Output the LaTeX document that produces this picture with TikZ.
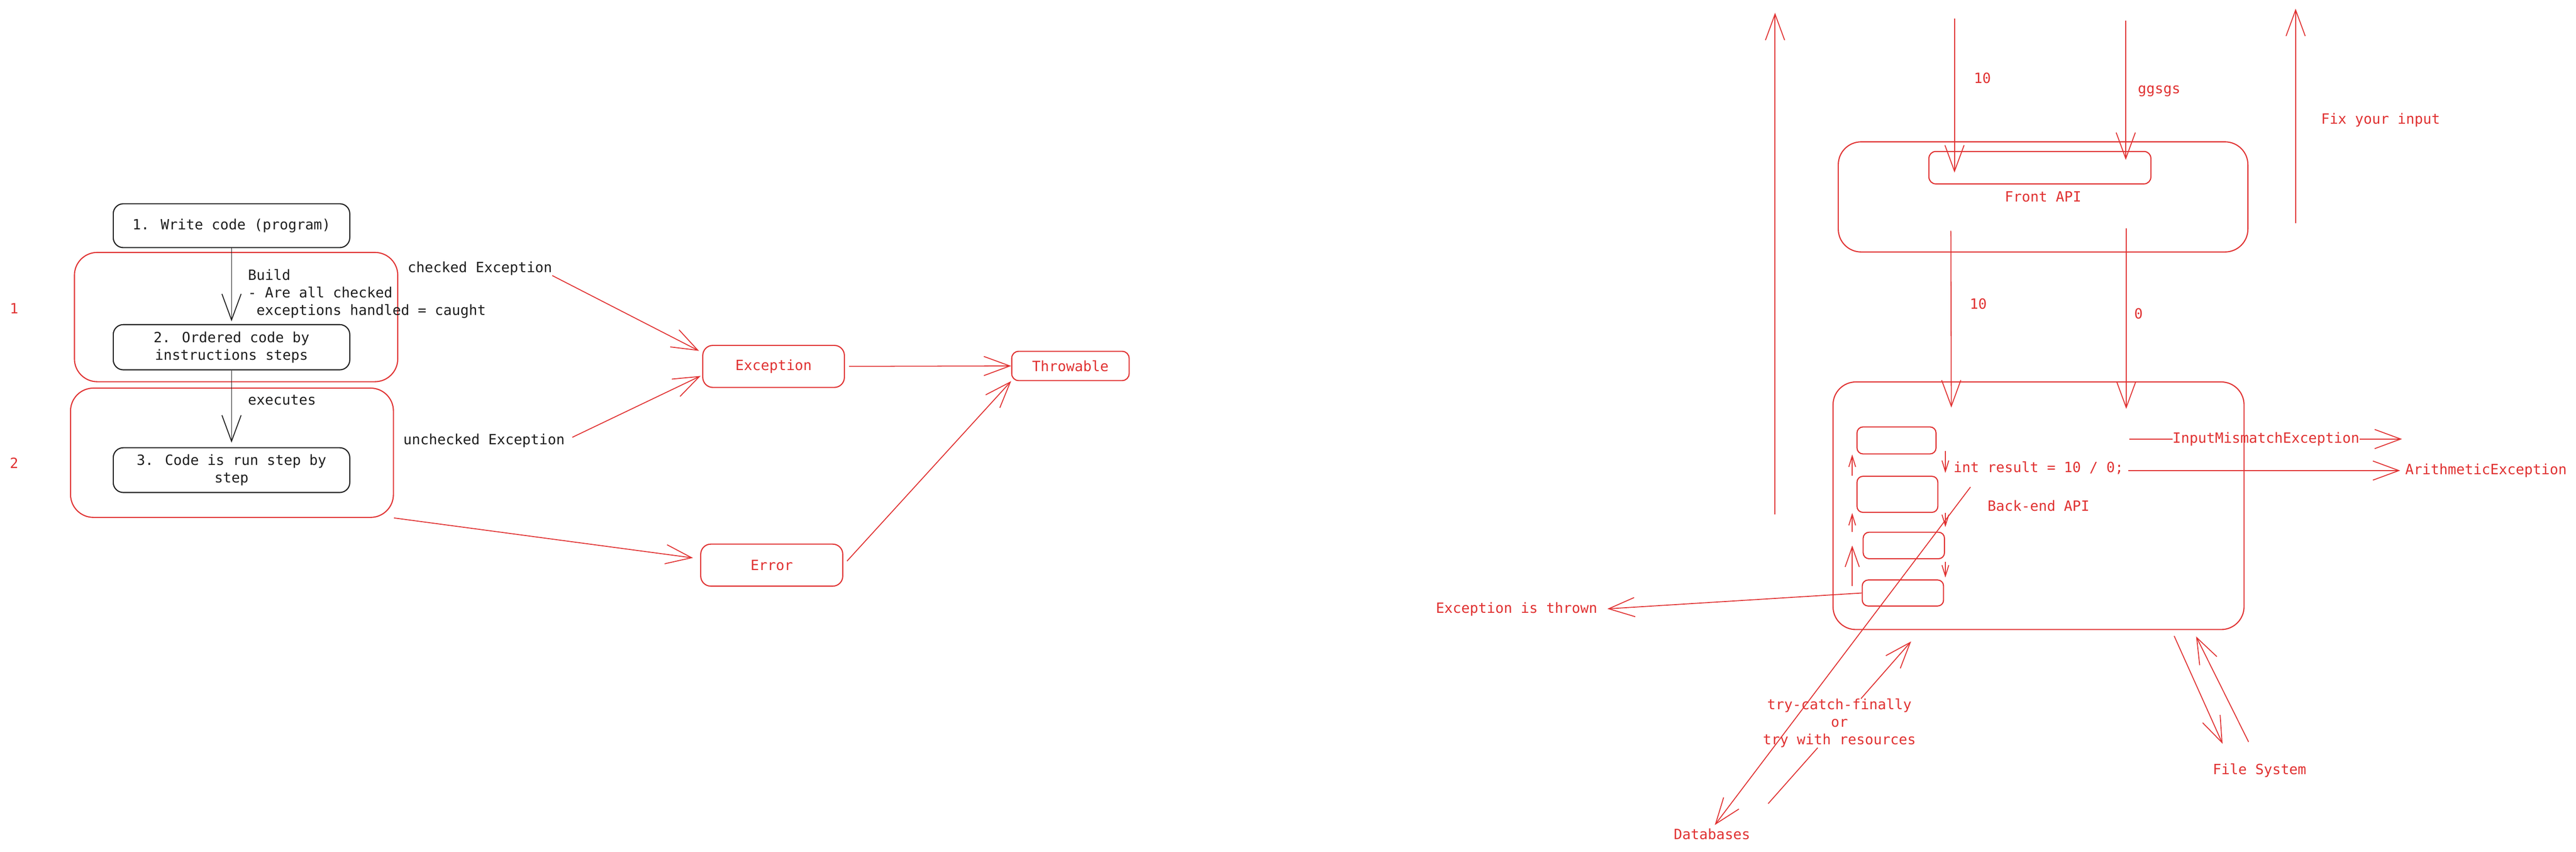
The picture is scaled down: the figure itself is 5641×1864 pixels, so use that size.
\documentclass[tikz,border=0pt]{standalone}
\usepackage{fontspec}
\setmainfont{DejaVu Sans Mono}
\usetikzlibrary{arrows.meta,positioning,calc}
\definecolor{exred}{HTML}{E03131}
\definecolor{blk}{HTML}{1E1E1E}
\newcommand{\mylw}{2.4pt}
\newcommand{\arlw}{2pt}
\newcommand{\fsz}{\fontsize{30.9pt}{38.5pt}\selectfont}
\tikzset{
    blkboxsty/.style={draw=blk,line width=\mylw,rectangle,rounded corners=22pt,align=center,text=blk,inner sep=0pt,anchor=center},
    bigboxsty/.style={draw=exred,line width=\mylw,rectangle,rounded corners=50pt,align=center,text=exred,inner sep=0pt,anchor=center},
    redboxsty/.style={draw=exred,line width=\mylw,rectangle,rounded corners=22pt,text=exred,inner sep=0pt,anchor=center},
    smboxsty/.style={draw=exred,line width=\mylw,rectangle,rounded corners=13pt,inner sep=0pt,anchor=center},
    redtxtsty/.style={text=exred,inner sep=0pt,align=center},
    blktxtsty/.style={text=blk,inner sep=0pt,align=left},
    blkarrsty/.style={draw=blk,line width=\arlw,->},
    redarrsty/.style={draw=exred,line width=\arlw,->},
    redlnsty/.style={draw=exred,line width=\arlw},
    smarrsty/.style={draw=exred,line width=\arlw,-{Straight Barb[length=24pt,width=15pt]}},
    mdarrsty/.style={draw=exred,line width=\arlw,-{Straight Barb[length=44pt,width=31pt]}},
}

\begin{document}
\begin{tikzpicture}[>={Straight Barb[length=57pt,width=42pt]},x=1pt,y=-1pt,font=\fsz]
\useasboundingbox (0,0) rectangle (5641,1864);

\node[bigboxsty,minimum width=708pt,minimum height=283pt] (bld) at (517,694) {};
\node[bigboxsty,minimum width=707pt,minimum height=283pt] (exe) at (508,991) {};
\node[blkboxsty,minimum width=518pt,minimum height=96pt] (wrt) at (507,494) {1. Write code (program)};
\node[blkboxsty,minimum width=518pt,minimum height=99pt] (ord) at (507,760) {2. Ordered code by\\instructions steps};
\node[blkboxsty,minimum width=518pt,minimum height=98pt] (run) at (507,1029) {3. Code is run step by\\step};
\node[redtxtsty] (one) at (31,675) {1};
\node[redtxtsty] (two) at (31,1014) {2};
\node[blktxtsty,anchor=west] (bldtxt) at (543,643) {Build\\- Are all checked\\~exceptions handled = caught};
\node[blktxtsty,anchor=west] (exetxt) at (543,875) {executes};
\node[blktxtsty] (chk) at (1051,588) {checked Exception};
\node[blktxtsty] (uchk) at (1060,965) {unchecked Exception};

\draw[blkarrsty,shorten >=6pt] (wrt) -- (ord);
\draw[blkarrsty,shorten >=10pt] (ord) -- (run);

\node[redboxsty,minimum width=310pt,minimum height=92pt] (exc) at (1694,802) {Exception};
\node[redboxsty,minimum width=311pt,minimum height=92pt] (err) at (1690,1237) {Error};
\node[redboxsty,rounded corners=15pt,minimum width=257pt,minimum height=64pt] (thr) at (2344,801) {Throwable};

\draw[redarrsty,shorten >=8pt] (chk.south east) -- (exc.169);
\draw[redarrsty,shorten <=18pt,shorten >=4pt] (uchk.east) -- (exc.187);
\draw[redarrsty,shorten >=16pt] (exe.south east) -- (err.175);
\draw[redarrsty,shorten <=9pt] (exc.east) -- (thr.west);
\draw[redarrsty,shorten <=12pt] (err.east) -- (thr.south west);

\node[bigboxsty,minimum width=897pt,minimum height=241pt] (fro) at (4474,431) {Front API};
\node[smboxsty,rounded corners=15pt,minimum width=486pt,minimum height=71pt] (fri) at (4467,367) {};
\node[bigboxsty,minimum width=900pt,minimum height=542pt] (bak) at (4464,1107) {Back-end API};
\node[smboxsty,minimum width=173pt,minimum height=59pt] (s1) at (4153,964) {};
\node[smboxsty,minimum width=177pt,minimum height=79pt] (s2) at (4155,1082) {};
\node[smboxsty,minimum width=178pt,minimum height=58pt] (s3) at (4169,1194) {};
\node[smboxsty,minimum width=178pt,minimum height=57pt] (s4) at (4167,1298) {};

\coordinate (lfts) at (3887,1126);
\coordinate (lfte) at (3887,28);
\coordinate (in10) at (4280,41);
\coordinate (ingg) at (4655,45);
\coordinate (fixs) at (5027,488);
\coordinate (fixe) at (5027,19);
\coordinate (f10s) at (4272,505);
\coordinate (f10e) at (4273,892);
\coordinate (f0s) at (4656,500);
\coordinate (f0e) at (4656,895);
\coordinate (upx) at (4056,0);
\coordinate (dnx) at (4260,0);
\coordinate (imes) at (4663,961);
\coordinate (imee) at (5260,961);
\coordinate (dbsrc) at (4315,1066);
\coordinate (tcfs) at (3872,1759);
\coordinate (tcfe) at (4185,1404);
\coordinate (fsa) at (4761,1392);
\coordinate (fsb) at (4867,1628);
\coordinate (fsc) at (4924,1624);
\coordinate (fsd) at (4809,1393);

\node[redtxtsty] (l10a) at (4341,171) {10};
\node[redtxtsty] (lgg) at (4728,199) {ggsgs};
\node[redtxtsty] (lfix) at (5213,263) {Fix your input};
\node[redtxtsty] (l10b) at (4332,665) {10};
\node[redtxtsty] (l0) at (4683,686) {0};
\node[redtxtsty] (code) at (4464,1024) {int result = 10 / 0;};
\node[redtxtsty] (imetxt) at (4962,961) {InputMismatchException};
\node[redtxtsty,anchor=west] (ari) at (5267,1030) {ArithmeticException};
\node[redtxtsty] (thrown) at (3321,1334) {Exception is thrown};
\node[redtxtsty] (dbs) at (3749,1826) {Databases};
\node[redtxtsty] (tcf) at (4028,1583) {try-catch-finally\\or\\try with resources};
\node[redtxtsty] (fs) at (4948,1687) {File System};

\draw[redarrsty] (lfts) -- (lfte);
\draw[redarrsty,shorten >=26pt] (in10) -- (in10 |- fri.south);
\draw[redarrsty,shorten >=17pt] (ingg) -- (ingg |- fri.center);
\draw[redarrsty] (fixs) -- (fixe);
\draw[redarrsty] (f10s) -- (f10e);
\draw[redarrsty] (f0s) -- (f0e);

\draw[smarrsty] (upx |- s2.north) -- (upx |- s1.south);
\draw[smarrsty] (upx |- s3.north) -- (upx |- s2.south);
\draw[mdarrsty,shorten <=-14pt] (upx |- s4.north) -- (upx |- s3.center);
\draw[smarrsty,shorten <=-8pt,shorten >=6pt] (dnx |- s1.south) -- (dnx |- s2.north);
\draw[smarrsty,shorten >=10pt] (dnx |- s2.south) -- (dnx |- s3.north);
\draw[smarrsty,shorten <=6pt,shorten >=4pt] (dnx |- s3.south) -- (dnx |- s4.north);

\draw[redlnsty] (imes) -- (imetxt.west);
\draw[redarrsty] (imetxt.east) -- (imee);
\draw[redarrsty,shorten <=10pt,shorten >=11pt] (code.east |- ari.west) -- (ari.west);
\draw[redarrsty,shorten >=22pt] (s4.west) -- (thrown.east);
\draw[redarrsty,shorten >=10pt] (dbsrc) -- (dbs.north);
\draw[redlnsty] (tcfs) -- (tcf);
\draw[redarrsty] (tcf) -- (tcfe);
\draw[redarrsty] (fsa) -- (fsb);
\draw[redarrsty] (fsc) -- (fsd);
\end{tikzpicture}
\end{document}
